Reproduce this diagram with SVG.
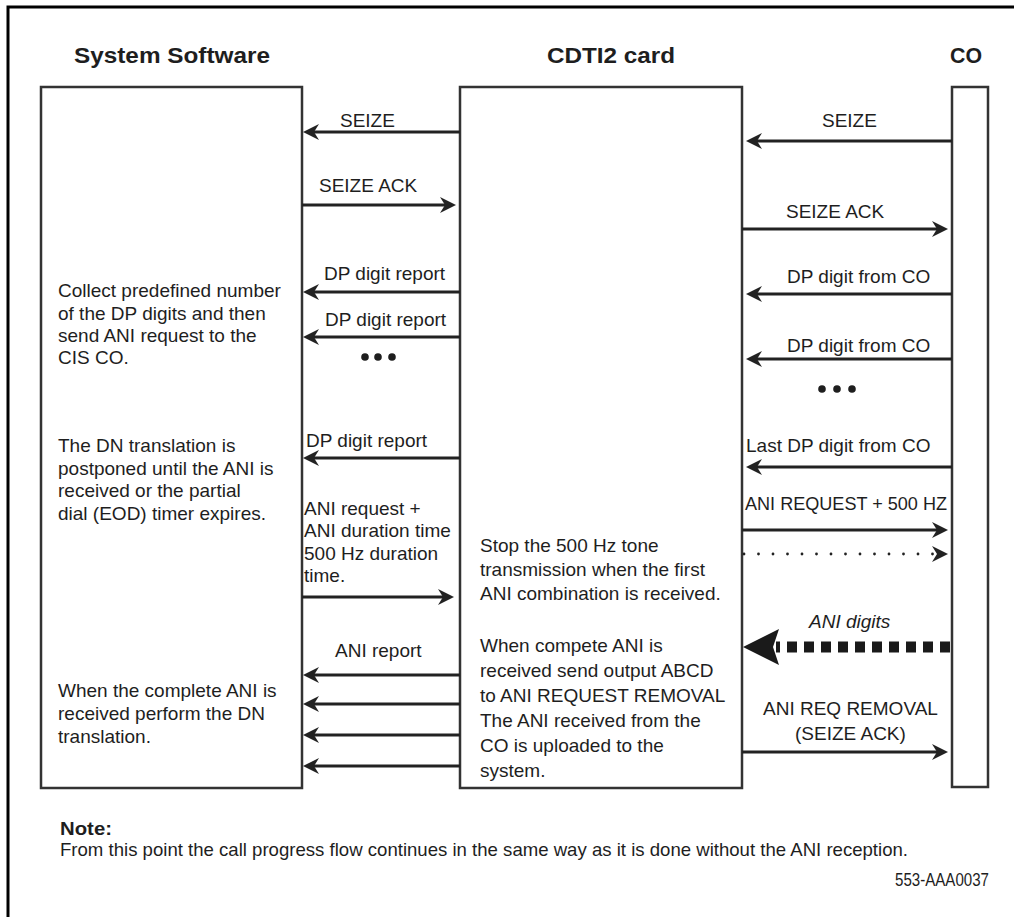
<svg xmlns="http://www.w3.org/2000/svg" width="1014" height="917" viewBox="0 0 1014 917">
<style>
text{font-family:"Liberation Sans",Arial,sans-serif;fill:#1e1e1e;font-size:19px}
.hdr{font-weight:bold;font-size:22px}
.box{fill:#fff;stroke:#333;stroke-width:2.5}
.ln{stroke:#222;stroke-width:2.8;fill:none}
.dot{fill:#1e1e1e}
</style>
<defs>
<marker id="ah" viewBox="0 -8 16 16" markerUnits="userSpaceOnUse" markerWidth="16" markerHeight="16" refX="8" refY="0" orient="auto">
<path d="M16,0 L0,-8 L5,0 L0,8 Z" fill="#222"/>
</marker>
</defs>
<rect width="1014" height="917" fill="#fff"/>
<path d="M8,917 V7 H1014" fill="none" stroke="#000" stroke-width="3"/>

<g id="hdr-sys"><text class="hdr" x="74" y="63" textLength="196" lengthAdjust="spacingAndGlyphs">System Software</text></g>
<g id="hdr-cdti"><text class="hdr" x="547" y="63" textLength="128" lengthAdjust="spacingAndGlyphs">CDTI2 card</text></g>
<g id="hdr-co"><text class="hdr" x="950" y="63" textLength="32" lengthAdjust="spacingAndGlyphs">CO</text></g>

<g id="sys">
<rect class="box" x="41" y="87" width="261" height="701"/>
<text x="58" y="297">Collect predefined number</text>
<text x="58" y="320">of the DP digits and then</text>
<text x="58" y="342">send ANI request to the</text>
<text x="58" y="364">CIS CO.</text>
<text x="58" y="452">The DN translation is</text>
<text x="58" y="475">postponed until the ANI is</text>
<text x="58" y="497">received or the partial</text>
<text x="58" y="520">dial (EOD) timer expires.</text>
<text x="58" y="697">When the complete ANI is</text>
<text x="58" y="720">received perform the DN</text>
<text x="58" y="743">translation.</text>
</g>

<g id="cdti">
<rect class="box" x="460" y="87" width="282" height="701"/>
<text x="480" y="552">Stop the 500 Hz tone</text>
<text x="480" y="576">transmission when the first</text>
<text x="480" y="600">ANI combination is received.</text>
<text x="480" y="652">When compete ANI is</text>
<text x="480" y="677">received send output ABCD</text>
<text x="480" y="702">to ANI REQUEST REMOVAL</text>
<text x="480" y="727">The ANI received from the</text>
<text x="480" y="752">CO is uploaded to the</text>
<text x="480" y="777">system.</text>
</g>

<g id="co">
<rect class="box" x="952" y="87" width="36" height="700"/>
</g>

<g id="connectors">
<!-- left side -->
<line class="ln" x1="460" y1="132" x2="311" y2="132" marker-end="url(#ah)"/>
<text x="340" y="127">SEIZE</text>
<line class="ln" x1="302" y1="205" x2="448" y2="205" marker-end="url(#ah)"/>
<text x="319" y="192">SEIZE ACK</text>
<line class="ln" x1="460" y1="292" x2="311" y2="292" marker-end="url(#ah)"/>
<text x="324" y="280">DP digit report</text>
<line class="ln" x1="460" y1="337" x2="311" y2="337" marker-end="url(#ah)"/>
<text x="325" y="326">DP digit report</text>
<circle class="dot" cx="365" cy="357" r="3.8"/><circle class="dot" cx="378" cy="357" r="3.8"/><circle class="dot" cx="392" cy="357" r="3.8"/>
<line class="ln" x1="460" y1="458" x2="311" y2="458" marker-end="url(#ah)"/>
<text x="306" y="447">DP digit report</text>
<text x="304" y="515">ANI request +</text>
<text x="304" y="537">ANI duration time</text>
<text x="304" y="560">500 Hz duration</text>
<text x="304" y="582">time.</text>
<line class="ln" x1="302" y1="597" x2="446" y2="597" marker-end="url(#ah)"/>
<text x="335" y="657">ANI report</text>
<line class="ln" x1="460" y1="675" x2="311" y2="675" marker-end="url(#ah)"/>
<line class="ln" x1="460" y1="704" x2="311" y2="704" marker-end="url(#ah)"/>
<line class="ln" x1="460" y1="735" x2="311" y2="735" marker-end="url(#ah)"/>
<line class="ln" x1="460" y1="766" x2="311" y2="766" marker-end="url(#ah)"/>
<!-- right side -->
<line class="ln" x1="952" y1="141" x2="754" y2="141" marker-end="url(#ah)"/>
<text x="822" y="127">SEIZE</text>
<line class="ln" x1="742" y1="229" x2="940" y2="229" marker-end="url(#ah)"/>
<text x="786" y="218">SEIZE ACK</text>
<line class="ln" x1="952" y1="294" x2="754" y2="294" marker-end="url(#ah)"/>
<text x="787" y="283">DP digit from CO</text>
<line class="ln" x1="952" y1="359" x2="754" y2="359" marker-end="url(#ah)"/>
<text x="787" y="352">DP digit from CO</text>
<circle class="dot" cx="822" cy="389" r="3.8"/><circle class="dot" cx="837" cy="389" r="3.8"/><circle class="dot" cx="852" cy="389" r="3.8"/>
<line class="ln" x1="952" y1="467" x2="754" y2="467" marker-end="url(#ah)"/>
<text x="746" y="452">Last DP digit from CO</text>
<line class="ln" x1="742" y1="530" x2="940" y2="530" marker-end="url(#ah)"/>
<text x="745" y="510" textLength="202" lengthAdjust="spacingAndGlyphs">ANI REQUEST + 500 HZ</text>
<line class="ln" x1="744" y1="554" x2="940" y2="554" stroke-width="3.5" stroke-linecap="round" stroke-dasharray="0 14.5" marker-end="url(#ah)"/>
<text x="809" y="628" font-style="italic">ANI digits</text>
<line x1="950" y1="647" x2="776" y2="647" stroke="#1a1a1a" stroke-width="11" stroke-dasharray="10 7"/>
<path d="M743,647 L779,629 L773,647 L779,665 Z" fill="#1a1a1a"/>
<line class="ln" x1="742" y1="752" x2="940" y2="752" marker-end="url(#ah)"/>
<text x="763" y="715">ANI REQ REMOVAL</text>
<text x="795" y="740">(SEIZE ACK)</text>
</g>

<g id="note">
<text x="60" y="835" font-weight="bold" textLength="52" lengthAdjust="spacingAndGlyphs">Note:</text>
<text x="60" y="856" font-size="16" textLength="848" lengthAdjust="spacingAndGlyphs">From this point the call progress flow continues in the same way as it is done without the ANI reception.</text>
<text x="895" y="886" font-size="14.5" textLength="94" lengthAdjust="spacingAndGlyphs">553-AAA0037</text>
</g>
</svg>
